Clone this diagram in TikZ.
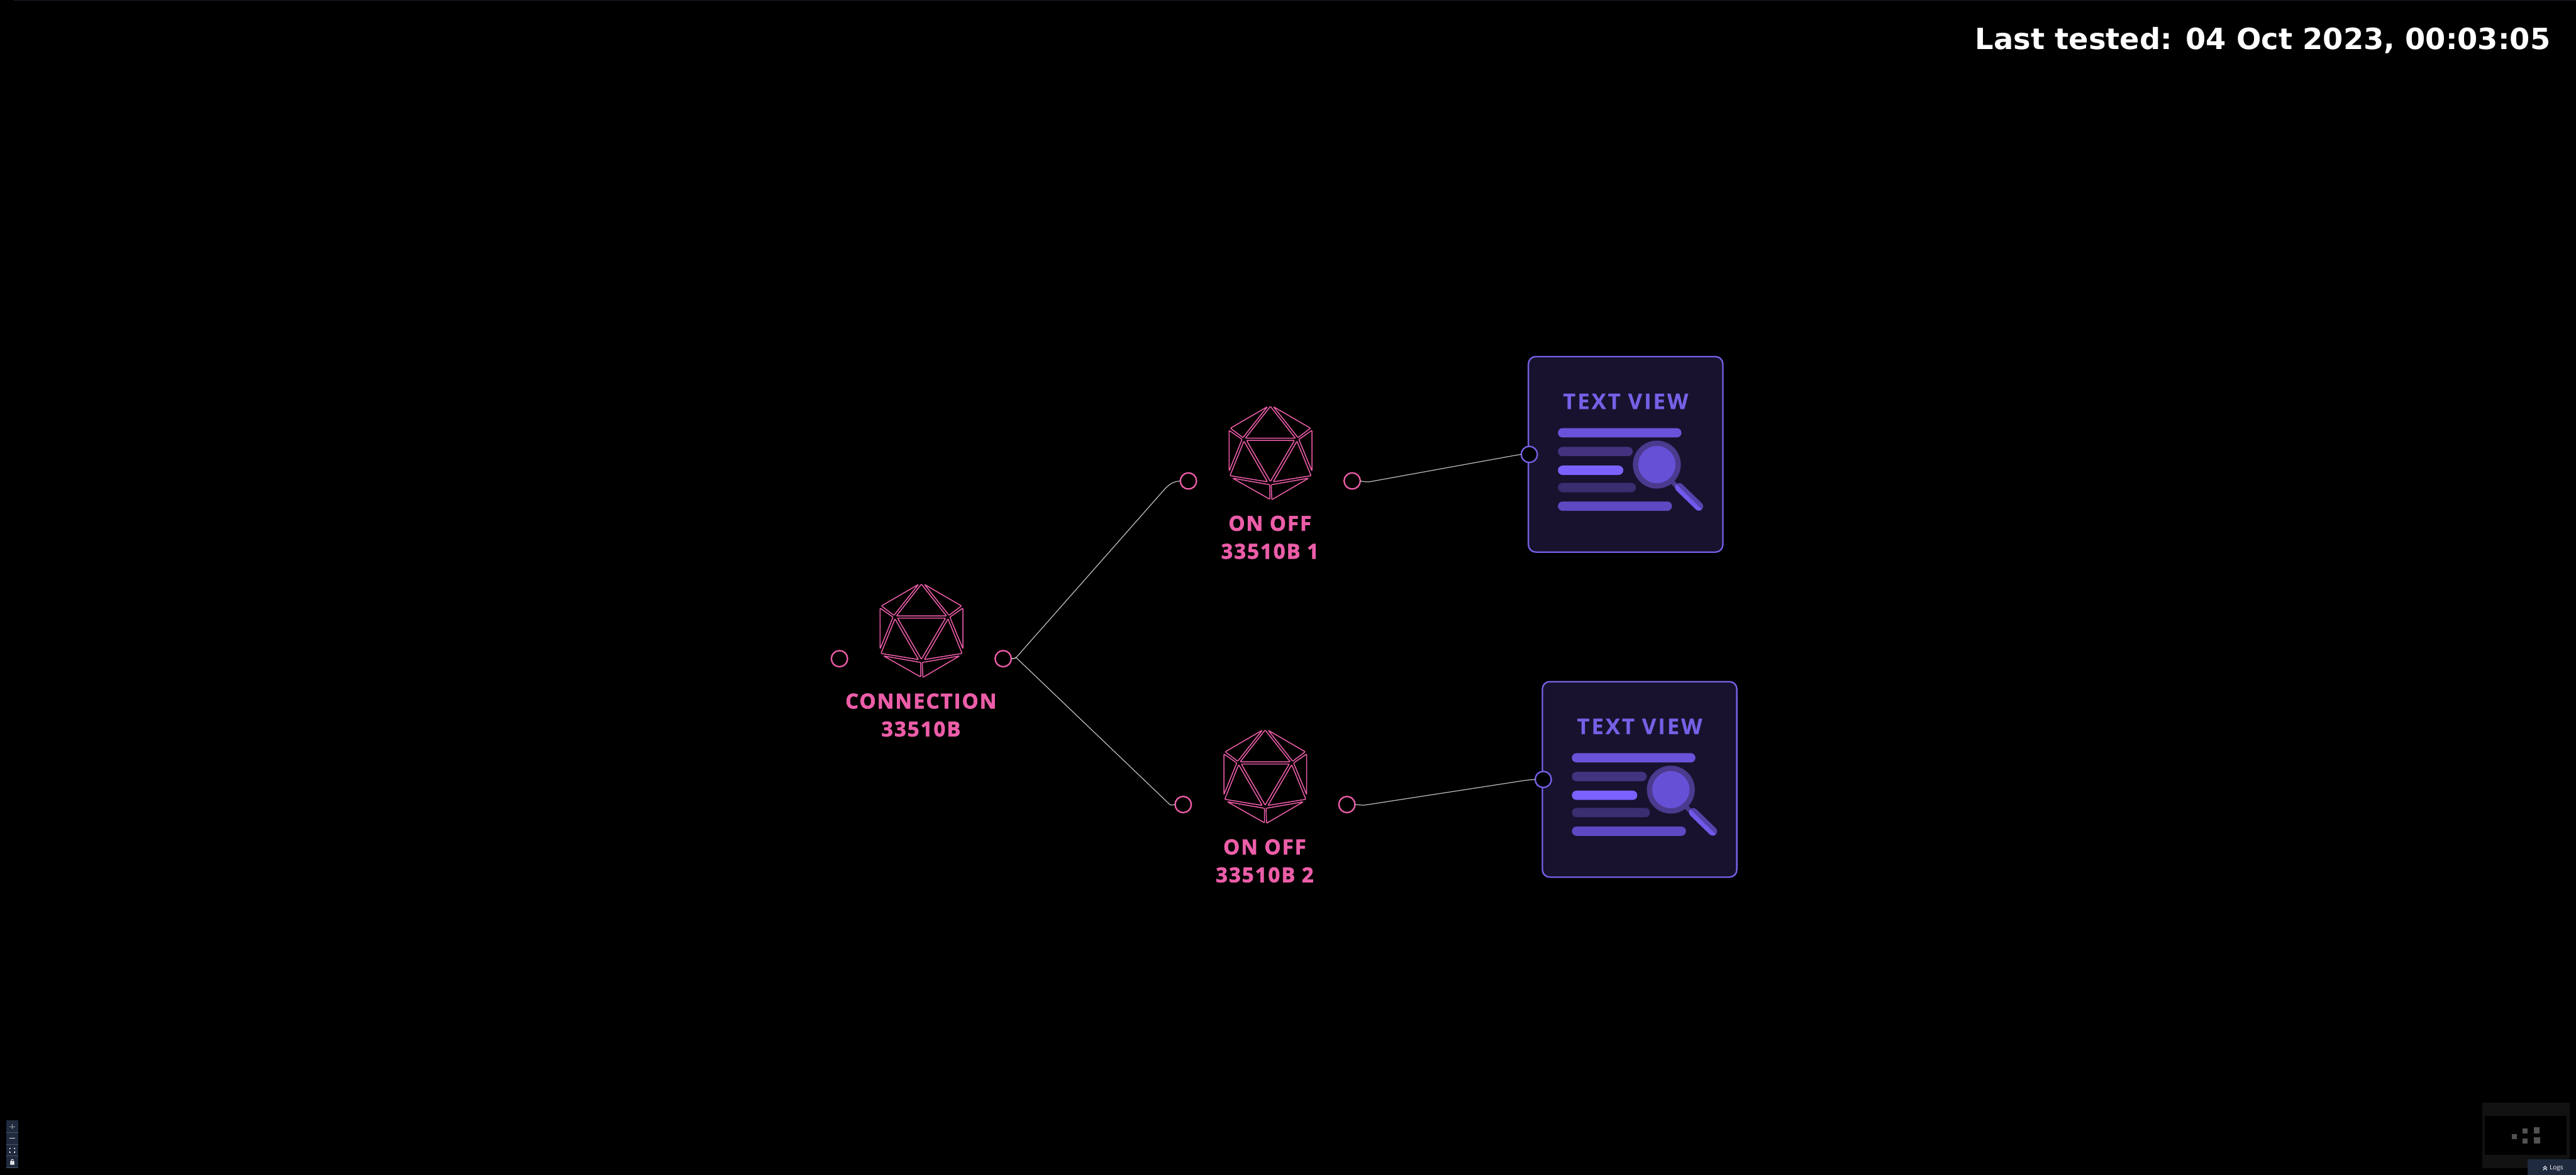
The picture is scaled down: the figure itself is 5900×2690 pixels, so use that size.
\documentclass[tikz,border=0pt]{standalone}
\usepackage{fontspec}
\setmainfont{Open Sans}
\newfontfamily\labfont[LetterSpace=6.5,BoldFeatures={FakeBold=2.2}]{Open Sans}
\newfontfamily\viewfont[LetterSpace=9,BoldFeatures={FakeBold=0.4}]{Open Sans}
\newfontfamily\titlefont{DejaVu Sans}
\newfontfamily\logsfont{Open Sans}
\definecolor{pinkc}{HTML}{EC5DA8}
\definecolor{boxfill}{HTML}{18122E}
\definecolor{boxline}{HTML}{7561E6}
\definecolor{barA}{HTML}{6A53DA}
\definecolor{barB}{HTML}{43337F}
\definecolor{barC}{HTML}{7B61FF}
\definecolor{barD}{HTML}{3B2D70}
\definecolor{barE}{HTML}{5E49C2}
\definecolor{ringc}{HTML}{4B3A8E}
\definecolor{lensc}{HTML}{6650D5}
\definecolor{handleD}{HTML}{5643AB}
\definecolor{wirec}{HTML}{BEBEBE}
\definecolor{panelc}{HTML}{1F2A3E}
\definecolor{sepc}{HTML}{4B5563}
\definecolor{toplinec}{HTML}{1A1F2B}
\tikzset{
  zoomunits/.style={x=0.0033333cm,y=-0.0033333cm},
  face/.style={draw=pinkc,line width=0.62pt,line join=round,rounded corners=0.015cm},
  pinkport/.style={circle,draw=pinkc,fill=black,line width=0.95pt,minimum size=0.37cm,inner sep=0pt,outer sep=0pt},
  viewport/.style={circle,draw=boxline,fill=black,line width=0.95pt,minimum size=0.37cm,inner sep=0pt,outer sep=0pt},
  wire/.style={draw=wirec,line width=0.5pt,line join=round},
  barshape/.style={rounded corners=0.105cm},
  pics/ico/.style n args={1}{code={
    \begin{scope}[zoomunits]
      \draw[face] (692,113) -- (865,332) -- (520,332) -- cycle;
      \draw[face] (672,115) -- (417,263) -- (503,328) -- cycle;
      \draw[face] (713,115) -- (968,263) -- (882,328) -- cycle;
      \draw[face] (408,278) -- (497,340) -- (408,558) -- cycle;
      \draw[face] (978,278) -- (888,340) -- (978,558) -- cycle;
      \draw[face] (528,347) -- (858,347) -- (692,630) -- cycle;
      \draw[face] (510,352) -- (672,632) -- (414,590) -- cycle;
      \draw[face] (875,352) -- (712,632) -- (972,590) -- cycle;
      \draw[face] (432,607) -- (688,652) -- (688,752) -- cycle;
      \draw[face] (955,607) -- (698,652) -- (702,755) -- cycle;
      \node[pinkport] (-l) at (128,626) {};
      \node[pinkport] (-r) at (1255,626) {};
      \node[text=pinkc,align=center,inner sep=0pt,font=\labfont\bfseries\fontsize{13.4}{18.2}\selectfont] (-t) at (689,1014) {#1};
    \end{scope}
  }},
  pics/textview/.style={code={
    \begin{scope}[zoomunits]
      \draw[draw=boxline,fill=boxfill,line width=0.95pt,rounded corners=0.167cm] (92,80) rectangle (1430,1425);
      \node[text=boxline,inner sep=0pt,font=\viewfont\bfseries\fontsize{14.1}{16}\selectfont] (-t) at (761,388) {TEXT VIEW};
      \fill[barA,barshape] (295,572) rectangle (1145,636);
      \fill[barB,barshape] (295,701) rectangle (810,765);
      \fill[barC,barshape] (295,830) rectangle (745,894);
      \fill[barD,barshape] (295,949) rectangle (832,1013);
      \fill[barE,barshape] (295,1077) rectangle (1080,1141);
      \draw[ringc,line width=2.9pt] (1085,945) -- (1120,980);
      \fill[ringc] (976,823) circle[radius=165];
      \fill[lensc] (976,823) circle[radius=128];
      \draw[handleD,line width=5.6pt,line cap=round] (1131,980) -- (1265,1110);
      \begin{scope}
        \clip (1100,949) -- (1300,1145) -- (1200,1245) -- (1000,1049) -- cycle;
        \draw[barC!92!black,line width=5.6pt,line cap=round] (1131,980) -- (1265,1110);
      \end{scope}
      \node[viewport] (-p) at (98,753) {};
    \end{scope}
  }},
}
\begin{document}
\begin{tikzpicture}[x=0.01cm,y=-0.01cm]
  \useasboundingbox (0,0) rectangle (5900,2690);
  \fill[black] (0,0) rectangle (5900,2690);
  \draw[toplinec,line width=0.3pt] (32,0.6) -- (5900,0.6);

  \node[anchor=base east,inner sep=0pt,text=white,font=\titlefont\bfseries\fontsize{19.0}{22}\selectfont] (title) at (5842,112.7) {Last tested: 04 Oct 2023, 00:03:05};

  \pic (a) at (1880,1300) {ico={CONNECTION\\33510B}};
  \pic (b) at (2679.3,893) {ico={ON OFF\\33510B 1}};
  \pic (c) at (2667.3,1634) {ico={ON OFF\\33510B 2}};
  \pic (v) at (3470,790) {textview};
  \pic (w) at (3502,1534.3) {textview};

  \draw[wire] (a-r.east) .. controls (2322,1508) and (2325,1507.5) .. (2328,1505) -- (2665,1123) .. controls (2680,1106) and (2688,1103) .. (b-l.west);
  \draw[wire] (a-r.east) .. controls (2322,1508) and (2325,1507.5) .. (2328,1506.5) -- (2680,1843) .. controls (2682,1844) and (2685,1843.5) .. (c-l.west);
  \draw[wire] (b-r.east) .. controls (3124,1103) and (3129,1104) .. (3138,1103) -- (3455,1045.5) .. controls (3466,1043.5) and (3476,1041.5) .. (v-p.west);
  \draw[wire] (c-r.east) .. controls (3112,1843) and (3117,1844) .. (3126,1843.6) -- (3490,1787.5) .. controls (3500,1786) and (3508,1785.7) .. (w-p.west);

  % controls, bottom left
  \fill[panelc] (14,2566) rectangle (42,2675);
  \foreach \yy in {2593,2620,2646.5,2674.5}{\draw[sepc,line width=0.28pt] (14,\yy) -- (42,\yy);}
  \draw[gray!70,line width=0.45pt] (22,2580) -- (34,2580) (28,2574) -- (28,2586);
  \draw[white!90!black,line width=0.45pt] (22,2606.7) -- (34,2606.7);
  \draw[white,line width=0.4pt] (22,2632) -- (22,2629) -- (25,2629) (31,2629) -- (34,2629) -- (34,2632) (34,2636) -- (34,2639) -- (31,2639) (25,2639) -- (22,2639) -- (22,2636);
  \fill[white,even odd rule] (23.5,2659) rectangle (32.5,2667) (27,2662) rectangle (29,2664);
  \draw[white,line width=0.4pt] (25.5,2659) .. controls (25.5,2654) and (30,2654) .. (31.5,2657);

  % minimap, bottom right
  \fill[black!93!white] (5685,2525) rectangle (5885,2674.3);
  \fill[black] (5691.7,2555) rectangle (5879,2645);
  \fill[black!68!white] (5752.3,2596.7) rectangle (5764.3,2608.7);
  \fill[black!68!white] (5777.3,2584) rectangle (5789.7,2595.7);
  \fill[black!68!white] (5777.3,2607.3) rectangle (5789.7,2619.3);
  \fill[black!68!white] (5802.7,2580.7) rectangle (5816.7,2595);
  \fill[black!68!white] (5803.7,2604.3) rectangle (5817.7,2618.7);

  % logs tab
  \fill[panelc] (5788.3,2654) rectangle (5900,2690);
  \draw[white,line width=0.4pt] (5824.5,2675) -- (5829,2670.5) -- (5833.5,2675) (5824.5,2679.5) -- (5829,2675) -- (5833.5,2679.5);
  \node[anchor=base west,inner sep=0pt,text=white,font=\logsfont\fontsize{4.1}{5}\selectfont] (logs) at (5839,2679) {Logs};
\end{tikzpicture}
\end{document}
